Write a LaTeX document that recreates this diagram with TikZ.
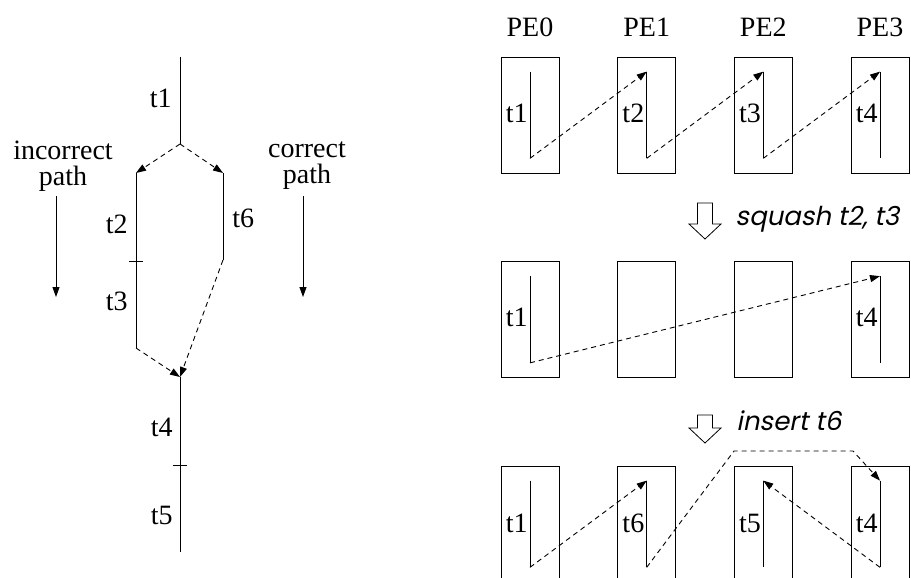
\documentclass[tikz,border=0pt]{standalone}
\usepackage{fontspec}
\setmainfont{Liberation Serif}
\newfontfamily\labelsans[FakeSlant=0.2]{Poppins}
\usetikzlibrary{arrows.meta}
\begin{document}
\begin{tikzpicture}[x=1pt,y=-1pt,line width=0.9pt,
  lbl/.style={inner sep=0pt,font=\fontsize{28}{26}\selectfont},
  dashline/.style={dash pattern=on 5pt off 4pt},
  darrow/.style={dashline,-{Triangle[length=10pt,width=7pt]}},
  sarrow/.style={-{Triangle[length=10pt,width=7pt]}},
  pebox/.style={draw,line width=0.7pt,minimum width=58pt,minimum height=116pt,inner sep=0pt},
  hollow/.style={draw,line width=0.8pt,fill=white},
  steplbl/.style={inner sep=0pt,anchor=base west,font=\labelsans\fontsize{26}{28}\selectfont}]
\clip (0,0) rectangle (911,578);
\fill[white] (0,0) rectangle (911,578);

% ---------- execution path tree ----------
\coordinate (a0) at (180,57);
\coordinate (a1) at (180,144);
\coordinate (b0) at (136,173);
\coordinate (bt) at (136,261);
\coordinate (b1) at (136,348);
\coordinate (c0) at (223,173);
\coordinate (c1) at (223,260);
\coordinate (d0) at (180,377);
\coordinate (dt) at (180,465);
\coordinate (d1) at (180,552);

\draw (a0) -- (a1);
\draw[darrow] (a1) -- (b0);
\draw[darrow] (a1) -- (c0);
\draw (b0) -- (b1);
\draw ([xshift=-7pt]bt) -- ([xshift=7pt]bt);
\draw (c0) -- (c1);
\draw[darrow] (b1) -- (d0);
\draw[darrow] (c1) -- (d0);
\draw (d0) -- (d1);
\draw ([xshift=-7pt]dt) -- ([xshift=7pt]dt);

\node[lbl,anchor=east] (lt1) at (172,98) {t1};
\node[lbl,anchor=east] (lt2) at (128,224) {t2};
\node[lbl,anchor=east] (lt3) at (128,301) {t3};
\node[lbl,anchor=west] (lt6) at (232,218) {t6};
\node[lbl,anchor=east] (lt4) at (173,427) {t4};
\node[lbl,anchor=east] (lt5) at (173,515) {t5};

\node[lbl,align=center] (inc) at (63,166) {incorrect\\path};
\node[lbl,align=center] (cor) at (307,166) {correct\\path};
\coordinate (inc0) at (56,196);
\coordinate (inc1) at (56,297);
\coordinate (cor0) at (303,196);
\coordinate (cor1) at (303,297);
\draw[sarrow] (inc0) -- (inc1);
\draw[sarrow] (cor0) -- (cor1);

% ---------- processing elements ----------
\foreach \i/\x in {0/530,1/646.7,2/763.3,3/880} {
  \node[lbl] (pe\i) at (\x,27) {PE\i};
  \node[pebox] (r1b\i) at (\x,115) {};
  \node[pebox] (r2b\i) at (\x,319.5) {};
  \node[pebox] (r3b\i) at (\x,524) {};
}

% row 1: t1 .. t4 spread over PE0..PE3
\foreach \i/\t in {0/1,1/2,2/3,3/4} {
  \coordinate (r1t\i) at ([yshift=-15pt]r1b\i.north);
  \coordinate (r1e\i) at ([yshift=15pt]r1b\i.south);
  \draw (r1t\i) -- (r1e\i);
  \node[lbl,anchor=east] (r1l\i) at ([xshift=-2pt,yshift=2pt]r1b\i.center) {t\t};
}
\draw[darrow] (r1e0) -- (r1t1);
\draw[darrow] (r1e1) -- (r1t2);
\draw[darrow] (r1e2) -- (r1t3);

% row 2: after squashing t2, t3
\foreach \i/\t in {0/1,3/4} {
  \coordinate (r2t\i) at ([yshift=-15pt]r2b\i.north);
  \coordinate (r2e\i) at ([yshift=15pt]r2b\i.south);
  \draw (r2t\i) -- (r2e\i);
  \node[lbl,anchor=east] (r2l\i) at ([xshift=-2pt,yshift=2pt]r2b\i.center) {t\t};
}
\draw[darrow] (r2e0) -- (r2t3);

% row 3: after inserting t6
\foreach \i/\t in {0/1,1/6,2/5,3/4} {
  \coordinate (r3t\i) at ([yshift=-15pt]r3b\i.north);
  \coordinate (r3e\i) at ([yshift=15pt]r3b\i.south);
  \draw (r3t\i) -- (r3e\i);
  \node[lbl,anchor=east] (r3l\i) at ([xshift=-2pt,yshift=1pt]r3b\i.center) {t\t};
}
\coordinate (k1) at (734,451);
\coordinate (k2) at (853,451);
\draw[darrow] (r3e0) -- (r3t1);
\draw[darrow] (r3e1) -- (k1) -- (k2) -- (r3t3);
\draw[darrow] (r3e3) -- (r3t2);

% transformation steps
\draw[hollow] (697.5,203) -- (712.5,203) -- (712.5,224) -- (721,224) -- (705,239)
  -- (689,224) -- (697.5,224) -- cycle;
\node[steplbl] (sq) at (735,225) {squash t2, t3};
\draw[hollow] (697.5,415) -- (712.5,415) -- (712.5,428) -- (721,428) -- (705,443)
  -- (689,428) -- (697.5,428) -- cycle;
\node[steplbl] (ins) at (736,430) {insert t6};
\end{tikzpicture}
\end{document}
